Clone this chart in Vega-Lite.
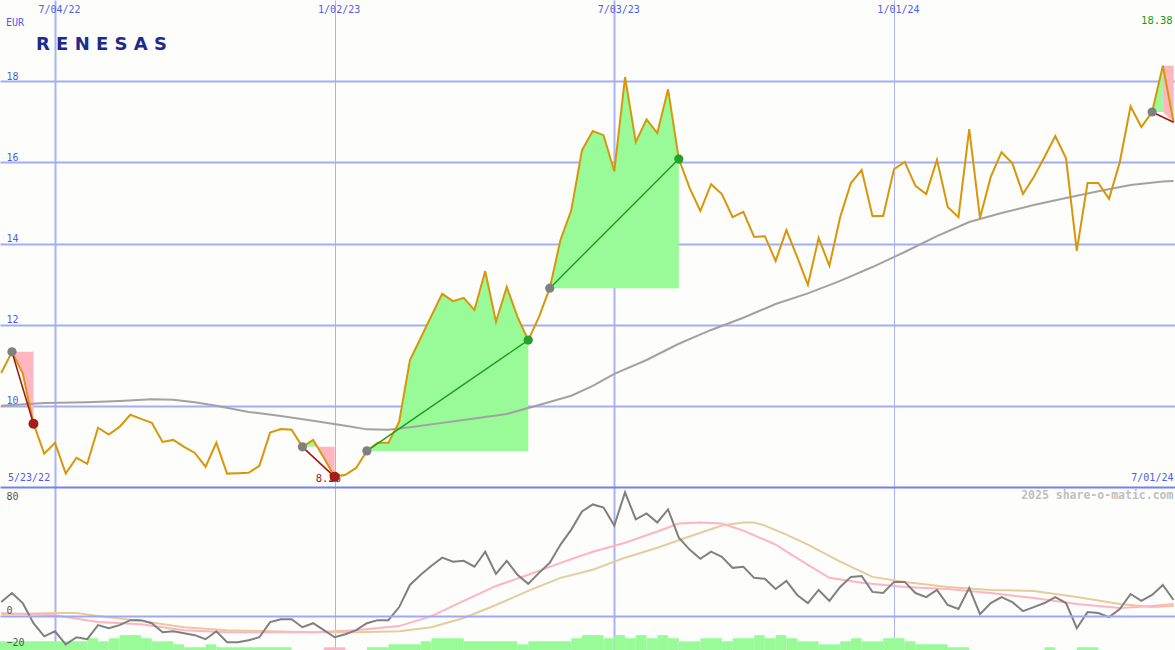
{
  "$schema": "https://vega.github.io/schema/vega-lite/v6.json",
  "padding": 0,
  "spacing": 0,
  "background": "#fdfefb",
  "config": {"view": {"stroke": null}, "concat": {"spacing": 0}},
  "datasets": {
    "px": [
      {"d": "2022-05-30", "p": 10.81}, {"d": "2022-06-06", "p": 11.33}, {"d": "2022-06-13", "p": 10.80}, {"d": "2022-06-20", "p": 9.56},
      {"d": "2022-06-27", "p": 8.82}, {"d": "2022-07-04", "p": 9.09}, {"d": "2022-07-11", "p": 8.33}, {"d": "2022-07-18", "p": 8.72},
      {"d": "2022-07-25", "p": 8.57}, {"d": "2022-08-01", "p": 9.46}, {"d": "2022-08-08", "p": 9.29}, {"d": "2022-08-15", "p": 9.48},
      {"d": "2022-08-22", "p": 9.78}, {"d": "2022-08-29", "p": 9.68}, {"d": "2022-09-05", "p": 9.58}, {"d": "2022-09-12", "p": 9.11},
      {"d": "2022-09-19", "p": 9.16}, {"d": "2022-09-26", "p": 8.99}, {"d": "2022-10-03", "p": 8.84}, {"d": "2022-10-10", "p": 8.50},
      {"d": "2022-10-17", "p": 9.09}, {"d": "2022-10-24", "p": 8.33}, {"d": "2022-10-31", "p": 8.34}, {"d": "2022-11-07", "p": 8.35},
      {"d": "2022-11-14", "p": 8.52}, {"d": "2022-11-21", "p": 9.34}, {"d": "2022-11-28", "p": 9.43}, {"d": "2022-12-05", "p": 9.41},
      {"d": "2022-12-12", "p": 8.99}, {"d": "2022-12-19", "p": 9.16}, {"d": "2022-12-26", "p": 8.72}, {"d": "2023-01-02", "p": 8.25},
      {"d": "2023-01-09", "p": 8.30}, {"d": "2023-01-16", "p": 8.47}, {"d": "2023-01-23", "p": 8.89}, {"d": "2023-01-30", "p": 9.09},
      {"d": "2023-02-06", "p": 9.09}, {"d": "2023-02-13", "p": 9.61}, {"d": "2023-02-20", "p": 11.13}, {"d": "2023-02-27", "p": 11.67},
      {"d": "2023-03-06", "p": 12.22}, {"d": "2023-03-13", "p": 12.76}, {"d": "2023-03-20", "p": 12.58}, {"d": "2023-03-27", "p": 12.66},
      {"d": "2023-04-03", "p": 12.36}, {"d": "2023-04-10", "p": 13.32}, {"d": "2023-04-17", "p": 12.07}, {"d": "2023-04-24", "p": 12.93},
      {"d": "2023-05-01", "p": 12.19}, {"d": "2023-05-08", "p": 11.62}, {"d": "2023-05-15", "p": 12.19}, {"d": "2023-05-22", "p": 12.90},
      {"d": "2023-05-29", "p": 14.09}, {"d": "2023-06-05", "p": 14.82}, {"d": "2023-06-12", "p": 16.30}, {"d": "2023-06-19", "p": 16.77},
      {"d": "2023-06-26", "p": 16.67}, {"d": "2023-07-03", "p": 15.78}, {"d": "2023-07-10", "p": 18.10}, {"d": "2023-07-17", "p": 16.50},
      {"d": "2023-07-24", "p": 17.06}, {"d": "2023-07-31", "p": 16.72}, {"d": "2023-08-07", "p": 17.80}, {"d": "2023-08-14", "p": 16.08},
      {"d": "2023-08-21", "p": 15.37}, {"d": "2023-08-28", "p": 14.80}, {"d": "2023-09-04", "p": 15.46}, {"d": "2023-09-11", "p": 15.22},
      {"d": "2023-09-18", "p": 14.65}, {"d": "2023-09-25", "p": 14.78}, {"d": "2023-10-02", "p": 14.16}, {"d": "2023-10-09", "p": 14.18},
      {"d": "2023-10-16", "p": 13.57}, {"d": "2023-10-23", "p": 14.33}, {"d": "2023-10-30", "p": 13.67}, {"d": "2023-11-06", "p": 12.98},
      {"d": "2023-11-13", "p": 14.14}, {"d": "2023-11-20", "p": 13.45}, {"d": "2023-11-27", "p": 14.65}, {"d": "2023-12-04", "p": 15.49},
      {"d": "2023-12-11", "p": 15.81}, {"d": "2023-12-18", "p": 14.68}, {"d": "2023-12-25", "p": 14.68}, {"d": "2024-01-01", "p": 15.83},
      {"d": "2024-01-08", "p": 16.01}, {"d": "2024-01-15", "p": 15.42}, {"d": "2024-01-22", "p": 15.22}, {"d": "2024-01-29", "p": 16.06},
      {"d": "2024-02-05", "p": 14.90}, {"d": "2024-02-12", "p": 14.65}, {"d": "2024-02-19", "p": 16.82}, {"d": "2024-02-26", "p": 14.63},
      {"d": "2024-03-04", "p": 15.64}, {"d": "2024-03-11", "p": 16.25}, {"d": "2024-03-18", "p": 15.98}, {"d": "2024-03-25", "p": 15.22},
      {"d": "2024-04-01", "p": 15.64}, {"d": "2024-04-08", "p": 16.13}, {"d": "2024-04-15", "p": 16.65}, {"d": "2024-04-22", "p": 16.10},
      {"d": "2024-04-29", "p": 13.82}, {"d": "2024-05-06", "p": 15.49}, {"d": "2024-05-13", "p": 15.49}, {"d": "2024-05-20", "p": 15.10},
      {"d": "2024-05-27", "p": 16.01}, {"d": "2024-06-03", "p": 17.38}, {"d": "2024-06-10", "p": 16.87}, {"d": "2024-06-17", "p": 17.24},
      {"d": "2024-06-24", "p": 18.38}, {"d": "2024-07-01", "p": 16.99}
    ],
    "ma": [
      {"d": "2022-05-30", "m": 10.00}, {"d": "2022-06-27", "m": 10.07}, {"d": "2022-07-25", "m": 10.09}, {"d": "2022-08-15", "m": 10.12},
      {"d": "2022-09-05", "m": 10.16}, {"d": "2022-09-19", "m": 10.15}, {"d": "2022-10-03", "m": 10.09}, {"d": "2022-10-17", "m": 10.00},
      {"d": "2022-11-07", "m": 9.85}, {"d": "2022-11-28", "m": 9.75}, {"d": "2022-12-19", "m": 9.63}, {"d": "2023-01-09", "m": 9.51},
      {"d": "2023-01-23", "m": 9.42}, {"d": "2023-02-06", "m": 9.41}, {"d": "2023-02-20", "m": 9.47}, {"d": "2023-03-13", "m": 9.58},
      {"d": "2023-04-03", "m": 9.69}, {"d": "2023-04-24", "m": 9.80}, {"d": "2023-05-15", "m": 10.02}, {"d": "2023-06-05", "m": 10.25},
      {"d": "2023-06-19", "m": 10.49}, {"d": "2023-07-03", "m": 10.79}, {"d": "2023-07-24", "m": 11.13}, {"d": "2023-08-14", "m": 11.53},
      {"d": "2023-09-04", "m": 11.87}, {"d": "2023-09-25", "m": 12.17}, {"d": "2023-10-16", "m": 12.51}, {"d": "2023-11-06", "m": 12.77},
      {"d": "2023-11-27", "m": 13.08}, {"d": "2023-12-18", "m": 13.42}, {"d": "2024-01-08", "m": 13.79}, {"d": "2024-01-29", "m": 14.18},
      {"d": "2024-02-19", "m": 14.53}, {"d": "2024-03-11", "m": 14.75}, {"d": "2024-04-01", "m": 14.95}, {"d": "2024-04-22", "m": 15.12},
      {"d": "2024-05-13", "m": 15.29}, {"d": "2024-06-03", "m": 15.44}, {"d": "2024-06-24", "m": 15.53}, {"d": "2024-07-01", "m": 15.54}
    ],
    "fills": [
      {"d": "2022-06-06", "p": 11.33, "b": 11.33, "g": 1, "c": "loss"}, {"d": "2022-06-13", "p": 10.80, "b": 11.33, "g": 1, "c": "loss"}, {"d": "2022-06-20", "p": 9.56, "b": 11.33, "g": 1, "c": "loss"},
      {"d": "2022-12-12", "p": 8.99, "b": 8.99, "g": 2, "c": "win"}, {"d": "2022-12-19", "p": 9.16, "b": 8.99, "g": 2, "c": "win"},
      {"d": "2022-12-19", "p": 9.16, "b": 8.99, "g": 3, "c": "loss"}, {"d": "2022-12-26", "p": 8.72, "b": 8.99, "g": 3, "c": "loss"}, {"d": "2023-01-02", "p": 8.25, "b": 8.99, "g": 3, "c": "loss"},
      {"d": "2023-01-23", "p": 8.89, "b": 8.89, "g": 4, "c": "win"}, {"d": "2023-01-30", "p": 9.09, "b": 8.89, "g": 4, "c": "win"}, {"d": "2023-02-06", "p": 9.09, "b": 8.89, "g": 4, "c": "win"},
      {"d": "2023-02-13", "p": 9.61, "b": 8.89, "g": 4, "c": "win"}, {"d": "2023-02-20", "p": 11.13, "b": 8.89, "g": 4, "c": "win"}, {"d": "2023-02-27", "p": 11.67, "b": 8.89, "g": 4, "c": "win"},
      {"d": "2023-03-06", "p": 12.22, "b": 8.89, "g": 4, "c": "win"}, {"d": "2023-03-13", "p": 12.76, "b": 8.89, "g": 4, "c": "win"}, {"d": "2023-03-20", "p": 12.58, "b": 8.89, "g": 4, "c": "win"},
      {"d": "2023-03-27", "p": 12.66, "b": 8.89, "g": 4, "c": "win"}, {"d": "2023-04-03", "p": 12.36, "b": 8.89, "g": 4, "c": "win"}, {"d": "2023-04-10", "p": 13.32, "b": 8.89, "g": 4, "c": "win"},
      {"d": "2023-04-17", "p": 12.07, "b": 8.89, "g": 4, "c": "win"}, {"d": "2023-04-24", "p": 12.93, "b": 8.89, "g": 4, "c": "win"}, {"d": "2023-05-01", "p": 12.19, "b": 8.89, "g": 4, "c": "win"},
      {"d": "2023-05-08", "p": 11.62, "b": 8.89, "g": 4, "c": "win"},
      {"d": "2023-05-22", "p": 12.90, "b": 12.90, "g": 5, "c": "win"}, {"d": "2023-05-29", "p": 14.09, "b": 12.90, "g": 5, "c": "win"}, {"d": "2023-06-05", "p": 14.82, "b": 12.90, "g": 5, "c": "win"},
      {"d": "2023-06-12", "p": 16.30, "b": 12.90, "g": 5, "c": "win"}, {"d": "2023-06-19", "p": 16.77, "b": 12.90, "g": 5, "c": "win"}, {"d": "2023-06-26", "p": 16.67, "b": 12.90, "g": 5, "c": "win"},
      {"d": "2023-07-03", "p": 15.78, "b": 12.90, "g": 5, "c": "win"}, {"d": "2023-07-10", "p": 18.10, "b": 12.90, "g": 5, "c": "win"}, {"d": "2023-07-17", "p": 16.50, "b": 12.90, "g": 5, "c": "win"},
      {"d": "2023-07-24", "p": 17.06, "b": 12.90, "g": 5, "c": "win"}, {"d": "2023-07-31", "p": 16.72, "b": 12.90, "g": 5, "c": "win"}, {"d": "2023-08-07", "p": 17.80, "b": 12.90, "g": 5, "c": "win"},
      {"d": "2023-08-14", "p": 16.08, "b": 12.90, "g": 5, "c": "win"},
      {"d": "2024-06-17", "p": 17.24, "b": 17.24, "g": 6, "c": "win"}, {"d": "2024-06-24", "p": 18.38, "b": 17.24, "g": 6, "c": "win"},
      {"d": "2024-06-24", "p": 18.38, "b": 17.24, "g": 7, "c": "loss"}, {"d": "2024-07-01", "p": 18.38, "b": 16.99, "g": 7, "c": "loss"}
    ],
    "tr": [
      {"d": "2022-06-06", "p": 11.33, "t": 1, "r": "loss"}, {"d": "2022-06-20", "p": 9.56, "t": 1, "r": "loss"},
      {"d": "2022-12-12", "p": 8.99, "t": 2, "r": "loss"}, {"d": "2023-01-02", "p": 8.25, "t": 2, "r": "loss"},
      {"d": "2023-01-23", "p": 8.89, "t": 3, "r": "win"}, {"d": "2023-05-08", "p": 11.62, "t": 3, "r": "win"},
      {"d": "2023-05-22", "p": 12.90, "t": 4, "r": "win"}, {"d": "2023-08-14", "p": 16.08, "t": 4, "r": "win"},
      {"d": "2024-06-17", "p": 17.24, "t": 5, "r": "loss"}, {"d": "2024-07-01", "p": 16.99, "t": 5, "r": "loss"}
    ],
    "dots": [
      {"d": "2022-06-06", "p": 11.33, "k": "entry"}, {"d": "2022-12-12", "p": 8.99, "k": "entry"}, {"d": "2023-01-23", "p": 8.89, "k": "entry"},
      {"d": "2023-05-22", "p": 12.90, "k": "entry"}, {"d": "2024-06-17", "p": 17.24, "k": "entry"},
      {"d": "2022-06-20", "p": 9.56, "k": "loss"}, {"d": "2023-01-02", "p": 8.25, "k": "loss"},
      {"d": "2023-05-08", "p": 11.62, "k": "win"}, {"d": "2023-08-14", "p": 16.08, "k": "win"}
    ],
    "osc": [
      {"d": "2022-05-30", "v": 8.7}, {"d": "2022-06-06", "v": 14.3}, {"d": "2022-06-13", "v": 8.1}, {"d": "2022-06-20", "v": -4.4},
      {"d": "2022-06-27", "v": -12.5}, {"d": "2022-07-04", "v": -9.4}, {"d": "2022-07-11", "v": -17.5}, {"d": "2022-07-18", "v": -13.1},
      {"d": "2022-07-25", "v": -14.3}, {"d": "2022-08-01", "v": -5.6}, {"d": "2022-08-08", "v": -7.5}, {"d": "2022-08-15", "v": -5.6},
      {"d": "2022-08-22", "v": -2.5}, {"d": "2022-08-29", "v": -2.5}, {"d": "2022-09-05", "v": -4.4}, {"d": "2022-09-12", "v": -10.0},
      {"d": "2022-09-19", "v": -9.4}, {"d": "2022-09-26", "v": -10.6}, {"d": "2022-10-03", "v": -11.8}, {"d": "2022-10-10", "v": -14.3},
      {"d": "2022-10-17", "v": -9.4}, {"d": "2022-10-24", "v": -16.2}, {"d": "2022-10-31", "v": -16.2}, {"d": "2022-11-07", "v": -15.0},
      {"d": "2022-11-14", "v": -13.1}, {"d": "2022-11-21", "v": -3.7}, {"d": "2022-11-28", "v": -1.9}, {"d": "2022-12-05", "v": -1.9},
      {"d": "2022-12-12", "v": -6.9}, {"d": "2022-12-19", "v": -4.4}, {"d": "2022-12-26", "v": -8.7}, {"d": "2023-01-02", "v": -13.1},
      {"d": "2023-01-09", "v": -11.2}, {"d": "2023-01-16", "v": -8.7}, {"d": "2023-01-23", "v": -4.4}, {"d": "2023-01-30", "v": -2.5},
      {"d": "2023-02-06", "v": -2.5}, {"d": "2023-02-13", "v": 5.6}, {"d": "2023-02-20", "v": 19.3}, {"d": "2023-02-27", "v": 25.6},
      {"d": "2023-03-06", "v": 31.2}, {"d": "2023-03-13", "v": 36.2}, {"d": "2023-03-20", "v": 33.7}, {"d": "2023-03-27", "v": 34.3},
      {"d": "2023-04-03", "v": 30.6}, {"d": "2023-04-10", "v": 39.9}, {"d": "2023-04-17", "v": 26.2}, {"d": "2023-04-24", "v": 34.3},
      {"d": "2023-05-01", "v": 25.6}, {"d": "2023-05-08", "v": 20.0}, {"d": "2023-05-15", "v": 26.8}, {"d": "2023-05-22", "v": 33.0},
      {"d": "2023-05-29", "v": 44.3}, {"d": "2023-06-05", "v": 53.6}, {"d": "2023-06-12", "v": 64.8}, {"d": "2023-06-19", "v": 69.2},
      {"d": "2023-06-26", "v": 67.3}, {"d": "2023-07-03", "v": 56.1}, {"d": "2023-07-10", "v": 76.7}, {"d": "2023-07-17", "v": 59.9},
      {"d": "2023-07-24", "v": 63.6}, {"d": "2023-07-31", "v": 58.0}, {"d": "2023-08-07", "v": 66.1}, {"d": "2023-08-14", "v": 48.6},
      {"d": "2023-08-21", "v": 41.2}, {"d": "2023-08-28", "v": 35.5}, {"d": "2023-09-04", "v": 39.9}, {"d": "2023-09-11", "v": 36.8},
      {"d": "2023-09-18", "v": 29.9}, {"d": "2023-09-25", "v": 30.6}, {"d": "2023-10-02", "v": 23.7}, {"d": "2023-10-09", "v": 23.1},
      {"d": "2023-10-16", "v": 16.8}, {"d": "2023-10-23", "v": 21.8}, {"d": "2023-10-30", "v": 13.1}, {"d": "2023-11-06", "v": 8.1},
      {"d": "2023-11-13", "v": 16.2}, {"d": "2023-11-20", "v": 9.4}, {"d": "2023-11-27", "v": 18.1}, {"d": "2023-12-04", "v": 24.3},
      {"d": "2023-12-11", "v": 24.9}, {"d": "2023-12-18", "v": 15.0}, {"d": "2023-12-25", "v": 14.3}, {"d": "2024-01-01", "v": 21.2},
      {"d": "2024-01-08", "v": 21.2}, {"d": "2024-01-15", "v": 14.3}, {"d": "2024-01-22", "v": 11.8}, {"d": "2024-01-29", "v": 16.2},
      {"d": "2024-02-05", "v": 6.9}, {"d": "2024-02-12", "v": 4.4}, {"d": "2024-02-19", "v": 17.5}, {"d": "2024-02-26", "v": 1.2},
      {"d": "2024-03-04", "v": 8.1}, {"d": "2024-03-11", "v": 11.8}, {"d": "2024-03-18", "v": 8.7}, {"d": "2024-03-25", "v": 3.1},
      {"d": "2024-04-01", "v": 5.6}, {"d": "2024-04-08", "v": 8.1}, {"d": "2024-04-15", "v": 11.8}, {"d": "2024-04-22", "v": 8.1},
      {"d": "2024-04-29", "v": -7.5}, {"d": "2024-05-06", "v": 2.5}, {"d": "2024-05-13", "v": 1.9}, {"d": "2024-05-20", "v": -0.6},
      {"d": "2024-05-27", "v": 4.4}, {"d": "2024-06-03", "v": 13.7}, {"d": "2024-06-10", "v": 9.4}, {"d": "2024-06-17", "v": 13.1},
      {"d": "2024-06-24", "v": 19.3}, {"d": "2024-07-01", "v": 10.0}
    ],
    "pk": [
      {"d": "2022-05-30", "v": 1.9}, {"d": "2022-07-04", "v": 0.6}, {"d": "2022-08-01", "v": -3.7}, {"d": "2022-08-29", "v": -5.0},
      {"d": "2022-09-26", "v": -8.7}, {"d": "2022-10-24", "v": -10.0}, {"d": "2022-11-21", "v": -10.0}, {"d": "2022-12-19", "v": -10.0},
      {"d": "2023-01-16", "v": -8.7}, {"d": "2023-02-13", "v": -6.2}, {"d": "2023-03-06", "v": 0.0}, {"d": "2023-03-27", "v": 9.4},
      {"d": "2023-04-17", "v": 18.7}, {"d": "2023-05-08", "v": 25.6}, {"d": "2023-05-29", "v": 33.0}, {"d": "2023-06-19", "v": 39.9},
      {"d": "2023-07-10", "v": 45.5}, {"d": "2023-07-31", "v": 52.4}, {"d": "2023-08-14", "v": 57.4}, {"d": "2023-08-28", "v": 58.0},
      {"d": "2023-09-11", "v": 57.4}, {"d": "2023-09-25", "v": 53.0}, {"d": "2023-10-16", "v": 44.3}, {"d": "2023-11-06", "v": 31.8},
      {"d": "2023-11-20", "v": 23.7}, {"d": "2023-12-11", "v": 20.6}, {"d": "2024-01-08", "v": 18.1}, {"d": "2024-02-05", "v": 16.8},
      {"d": "2024-03-04", "v": 14.3}, {"d": "2024-04-01", "v": 11.2}, {"d": "2024-04-29", "v": 7.5}, {"d": "2024-05-27", "v": 5.0},
      {"d": "2024-06-17", "v": 6.2}, {"d": "2024-07-01", "v": 7.5}
    ],
    "tan": [
      {"d": "2022-05-30", "v": 1.2}, {"d": "2022-07-04", "v": 1.9}, {"d": "2022-07-18", "v": 1.9}, {"d": "2022-08-01", "v": 0.0},
      {"d": "2022-08-29", "v": -3.1}, {"d": "2022-09-26", "v": -6.9}, {"d": "2022-10-24", "v": -8.7}, {"d": "2022-11-21", "v": -9.4},
      {"d": "2022-12-19", "v": -10.0}, {"d": "2023-01-16", "v": -10.0}, {"d": "2023-02-13", "v": -9.4}, {"d": "2023-03-06", "v": -6.9},
      {"d": "2023-03-27", "v": -1.2}, {"d": "2023-04-17", "v": 6.9}, {"d": "2023-05-08", "v": 15.6}, {"d": "2023-05-29", "v": 23.7},
      {"d": "2023-06-19", "v": 28.7}, {"d": "2023-07-10", "v": 36.2}, {"d": "2023-07-31", "v": 42.4}, {"d": "2023-08-21", "v": 49.3},
      {"d": "2023-09-11", "v": 56.1}, {"d": "2023-09-25", "v": 58.0}, {"d": "2023-10-02", "v": 58.0}, {"d": "2023-10-09", "v": 56.1},
      {"d": "2023-10-23", "v": 50.5}, {"d": "2023-11-06", "v": 44.3}, {"d": "2023-11-27", "v": 33.7}, {"d": "2023-12-18", "v": 24.3},
      {"d": "2024-01-08", "v": 21.2}, {"d": "2024-02-05", "v": 18.1}, {"d": "2024-03-04", "v": 16.2}, {"d": "2024-04-01", "v": 15.6},
      {"d": "2024-04-29", "v": 11.8}, {"d": "2024-05-27", "v": 7.5}, {"d": "2024-06-17", "v": 5.6}, {"d": "2024-07-01", "v": 6.2}
    ],
    "bars": [
      {"d": "2022-05-23", "d2": "2022-07-25", "v": -15.6, "c": "win"}, {"d": "2022-07-25", "d2": "2022-08-01", "v": -13.7, "c": "win"},
      {"d": "2022-08-01", "d2": "2022-08-08", "v": -15.6, "c": "win"}, {"d": "2022-08-08", "d2": "2022-08-15", "v": -13.7, "c": "win"},
      {"d": "2022-08-15", "d2": "2022-08-29", "v": -11.8, "c": "win"}, {"d": "2022-08-29", "d2": "2022-09-05", "v": -13.7, "c": "win"},
      {"d": "2022-09-05", "d2": "2022-09-19", "v": -15.6, "c": "win"}, {"d": "2022-09-19", "d2": "2022-09-26", "v": -17.5, "c": "win"},
      {"d": "2022-09-26", "d2": "2022-10-10", "v": -19.3, "c": "win"}, {"d": "2022-10-10", "d2": "2022-10-17", "v": -17.5, "c": "win"},
      {"d": "2022-10-17", "d2": "2022-12-05", "v": -19.3, "c": "win"}, {"d": "2022-12-26", "d2": "2023-01-09", "v": -19.3, "c": "loss"},
      {"d": "2023-01-23", "d2": "2023-02-06", "v": -19.3, "c": "win"}, {"d": "2023-02-06", "d2": "2023-02-27", "v": -17.5, "c": "win"},
      {"d": "2023-02-27", "d2": "2023-03-06", "v": -15.6, "c": "win"}, {"d": "2023-03-06", "d2": "2023-03-27", "v": -13.7, "c": "win"},
      {"d": "2023-03-27", "d2": "2023-05-01", "v": -15.6, "c": "win"}, {"d": "2023-05-01", "d2": "2023-05-08", "v": -17.5, "c": "win"},
      {"d": "2023-05-08", "d2": "2023-06-05", "v": -15.6, "c": "win"}, {"d": "2023-06-05", "d2": "2023-06-12", "v": -13.7, "c": "win"},
      {"d": "2023-06-12", "d2": "2023-06-26", "v": -11.8, "c": "win"}, {"d": "2023-06-26", "d2": "2023-07-03", "v": -13.7, "c": "win"},
      {"d": "2023-07-03", "d2": "2023-07-10", "v": -11.8, "c": "win"}, {"d": "2023-07-10", "d2": "2023-07-17", "v": -13.7, "c": "win"},
      {"d": "2023-07-17", "d2": "2023-07-24", "v": -11.8, "c": "win"}, {"d": "2023-07-24", "d2": "2023-07-31", "v": -13.7, "c": "win"},
      {"d": "2023-07-31", "d2": "2023-08-07", "v": -11.8, "c": "win"}, {"d": "2023-08-07", "d2": "2023-08-14", "v": -13.7, "c": "win"},
      {"d": "2023-08-14", "d2": "2023-08-28", "v": -15.6, "c": "win"}, {"d": "2023-08-28", "d2": "2023-09-11", "v": -13.7, "c": "win"},
      {"d": "2023-09-11", "d2": "2023-09-18", "v": -15.6, "c": "win"}, {"d": "2023-09-18", "d2": "2023-10-02", "v": -13.7, "c": "win"},
      {"d": "2023-10-02", "d2": "2023-10-09", "v": -11.8, "c": "win"}, {"d": "2023-10-09", "d2": "2023-10-16", "v": -13.7, "c": "win"},
      {"d": "2023-10-16", "d2": "2023-10-23", "v": -11.8, "c": "win"}, {"d": "2023-10-23", "d2": "2023-10-30", "v": -13.7, "c": "win"},
      {"d": "2023-10-30", "d2": "2023-11-13", "v": -15.6, "c": "win"}, {"d": "2023-11-13", "d2": "2023-11-27", "v": -17.5, "c": "win"},
      {"d": "2023-11-27", "d2": "2023-12-04", "v": -15.6, "c": "win"}, {"d": "2023-12-04", "d2": "2023-12-11", "v": -13.7, "c": "win"},
      {"d": "2023-12-11", "d2": "2023-12-25", "v": -15.6, "c": "win"}, {"d": "2023-12-25", "d2": "2024-01-08", "v": -13.7, "c": "win"},
      {"d": "2024-01-08", "d2": "2024-01-15", "v": -15.6, "c": "win"}, {"d": "2024-01-15", "d2": "2024-02-05", "v": -17.5, "c": "win"},
      {"d": "2024-02-05", "d2": "2024-02-19", "v": -19.3, "c": "win"}, {"d": "2024-04-08", "d2": "2024-04-15", "v": -19.3, "c": "win"},
      {"d": "2024-04-29", "d2": "2024-05-13", "v": -19.3, "c": "win"}
    ]
  },
  "vconcat": [
    {
      "width": 1175,
      "height": 487,
      "layer": [
        {
          "data": {"name": "fills"},
          "transform": [{"filter": "datum.c == 'win'"}],
          "mark": {"type": "area", "clip": true, "color": "#98fb98", "opacity": 1},
          "encoding": {
            "x": {"field": "d", "type": "temporal",
              "scale": {"type": "utc", "domain": [{"year": 2022, "month": 5, "date": 29, "hours": 5, "utc": true}, {"year": 2024, "month": 7, "date": 1, "hours": 22, "utc": true}]},
              "axis": {"orient": "top", "title": null,
                "values": [{"year": 2022, "month": 7, "date": 4, "utc": true}, {"year": 2023, "month": 1, "date": 2, "utc": true}, {"year": 2023, "month": 7, "date": 3, "utc": true}, {"year": 2024, "month": 1, "date": 1, "utc": true}],
                "labelExpr": "utcFormat(datum.value, '%-m/%d/%y')",
                "grid": true, "gridColor": "#a9b3f6",
                "gridWidth": {"condition": {"test": "utcmonth(datum.value) == 6", "value": 2}, "value": 1},
                "domain": false, "ticks": false, "tickSize": 0,
                "labelPadding": -9, "labelBaseline": "middle", "labelOffset": 4, "labelFlush": false, "labelOverlap": false,
                "labelFont": "DejaVu Sans Mono", "labelFontSize": 10, "labelColor": "#4d5de8"}},
            "y": {"field": "p", "type": "quantitative", "stack": null,
              "scale": {"domain": [8, 20], "nice": false, "zero": false},
              "axis": {"orient": "left", "title": null, "values": [10, 12, 14, 16, 18],
                "grid": true, "gridColor": "#a3adf4", "gridWidth": 2,
                "domain": false, "ticks": false, "tickSize": 0,
                "labelAlign": "left", "labelPadding": -6, "labelBaseline": "middle", "labelOffset": -5,
                "labelFont": "DejaVu Sans Mono", "labelFontSize": 10, "labelColor": "#4d5de8"}},
            "y2": {"field": "b"},
            "detail": {"field": "g", "type": "nominal"}
          }
        },
        {
          "data": {"name": "fills"},
          "transform": [{"filter": "datum.c == 'loss'"}],
          "mark": {"type": "area", "clip": true, "color": "#ffb6c1", "opacity": 1},
          "encoding": {
            "x": {"field": "d", "type": "temporal"},
            "y": {"field": "p", "type": "quantitative", "stack": null},
            "y2": {"field": "b"},
            "detail": {"field": "g", "type": "nominal"}
          }
        },
        {
          "data": {"name": "ma"},
          "mark": {"type": "line", "clip": true, "color": "#a2a2a2", "strokeWidth": 2},
          "encoding": {"x": {"field": "d", "type": "temporal"}, "y": {"field": "m", "type": "quantitative"}}
        },
        {
          "data": {"name": "px"},
          "mark": {"type": "line", "clip": true, "color": "#d8960a", "strokeWidth": 2},
          "encoding": {"x": {"field": "d", "type": "temporal"}, "y": {"field": "p", "type": "quantitative"}}
        },
        {
          "data": {"name": "tr"},
          "transform": [{"filter": "datum.r == 'loss'"}],
          "mark": {"type": "line", "clip": true, "color": "#a01818", "strokeWidth": 1.6},
          "encoding": {"x": {"field": "d", "type": "temporal"}, "y": {"field": "p", "type": "quantitative"}, "detail": {"field": "t", "type": "nominal"}}
        },
        {
          "data": {"name": "tr"},
          "transform": [{"filter": "datum.r == 'win'"}],
          "mark": {"type": "line", "clip": true, "color": "#1e9a1e", "strokeWidth": 1.4},
          "encoding": {"x": {"field": "d", "type": "temporal"}, "y": {"field": "p", "type": "quantitative"}, "detail": {"field": "t", "type": "nominal"}}
        },
        {
          "data": {"values": [{}]},
          "mark": {"type": "text", "text": "8.26", "align": "right", "baseline": "middle", "font": "DejaVu Sans Mono", "fontSize": 10.5, "color": "#a01818"},
          "encoding": {"x": {"datum": {"year": 2023, "month": 1, "date": 6, "hours": 3, "utc": true}, "type": "temporal"}, "y": {"datum": 8.2, "type": "quantitative"}}
        },
        {
          "data": {"name": "dots"},
          "transform": [{"filter": "datum.k == 'entry'"}],
          "mark": {"type": "circle", "size": 85, "color": "#808080", "opacity": 1},
          "encoding": {"x": {"field": "d", "type": "temporal"}, "y": {"field": "p", "type": "quantitative"}}
        },
        {
          "data": {"name": "dots"},
          "transform": [{"filter": "datum.k == 'loss'"}],
          "mark": {"type": "circle", "size": 100, "color": "#a51c1c", "opacity": 1},
          "encoding": {"x": {"field": "d", "type": "temporal"}, "y": {"field": "p", "type": "quantitative"}}
        },
        {
          "data": {"name": "dots"},
          "transform": [{"filter": "datum.k == 'win'"}],
          "mark": {"type": "circle", "size": 85, "color": "#2a9d2a", "opacity": 1},
          "encoding": {"x": {"field": "d", "type": "temporal"}, "y": {"field": "p", "type": "quantitative"}}
        },
        {
          "data": {"values": [{}]},
          "mark": {"type": "text", "text": "EUR", "align": "left", "baseline": "middle", "font": "DejaVu Sans Mono", "fontSize": 10, "color": "#4d5de8"},
          "encoding": {"x": {"datum": {"year": 2022, "month": 6, "date": 2, "hours": 3, "utc": true}, "type": "temporal"}, "y": {"datum": 19.44, "type": "quantitative"}}
        },
        {
          "data": {"values": [{}]},
          "mark": {"type": "text", "text": "R E N E S A S", "align": "left", "baseline": "middle", "font": "DejaVu Sans", "fontWeight": "bold", "fontSize": 18, "color": "#1d2b8f"},
          "encoding": {"x": {"datum": {"year": 2022, "month": 6, "date": 21, "hours": 15, "utc": true}, "type": "temporal"}, "y": {"datum": 18.89, "type": "quantitative"}}
        },
        {
          "data": {"values": [{}]},
          "mark": {"type": "text", "text": "18.38", "align": "right", "baseline": "middle", "font": "DejaVu Sans Mono", "fontSize": 10.5, "color": "#229a22"},
          "encoding": {"x": {"datum": {"year": 2024, "month": 6, "date": 30, "hours": 10, "utc": true}, "type": "temporal"}, "y": {"datum": 19.48, "type": "quantitative"}}
        },
        {
          "data": {"values": [{}]},
          "mark": {"type": "text", "text": "5/23/22", "align": "left", "baseline": "middle", "font": "DejaVu Sans Mono", "fontSize": 10, "color": "#4d5de8"},
          "encoding": {"x": {"datum": {"year": 2022, "month": 6, "date": 3, "hours": 10, "utc": true}, "type": "temporal"}, "y": {"datum": 8.215, "type": "quantitative"}}
        },
        {
          "data": {"values": [{}]},
          "mark": {"type": "text", "text": "7/01/24", "align": "right", "baseline": "middle", "font": "DejaVu Sans Mono", "fontSize": 10, "color": "#4d5de8"},
          "encoding": {"x": {"datum": {"year": 2024, "month": 6, "date": 30, "hours": 22, "utc": true}, "type": "temporal"}, "y": {"datum": 8.215, "type": "quantitative"}}
        }
      ]
    },
    {
      "width": 1175,
      "height": 163,
      "layer": [
        {
          "data": {"name": "bars"},
          "transform": [{"filter": "datum.c == 'win'"}],
          "mark": {"type": "rect", "clip": true, "color": "#98fb98"},
          "encoding": {
            "x": {"field": "d", "type": "temporal",
              "scale": {"type": "utc", "domain": [{"year": 2022, "month": 5, "date": 29, "hours": 5, "utc": true}, {"year": 2024, "month": 7, "date": 1, "hours": 22, "utc": true}]},
              "axis": {"orient": "top", "title": null,
                "values": [{"year": 2022, "month": 7, "date": 4, "utc": true}, {"year": 2023, "month": 1, "date": 2, "utc": true}, {"year": 2023, "month": 7, "date": 3, "utc": true}, {"year": 2024, "month": 1, "date": 1, "utc": true}],
                "labels": false, "ticks": false, "tickSize": 0,
                "grid": true, "gridColor": "#a9b3f6",
                "gridWidth": {"condition": {"test": "utcmonth(datum.value) == 6", "value": 2}, "value": 1},
                "domain": true, "domainColor": "#7482ec", "domainWidth": 2}},
            "x2": {"field": "d2"},
            "y": {"field": "v", "type": "quantitative",
              "scale": {"domain": [-21, 80], "nice": false, "zero": false},
              "axis": {"orient": "left", "title": null, "values": [-20, 0, 80], "zindex": 1,
                "grid": true, "gridColor": {"condition": {"test": "datum.value == 0", "value": "#9fa9f3"}, "value": "rgba(0,0,0,0)"}, "gridWidth": 2,
                "domain": false, "ticks": false, "tickSize": 0,
                "labelAlign": "left", "labelPadding": -6, "labelBaseline": "middle",
                "labelOffset": {"condition": {"test": "datum.value == 80", "value": 9}, "value": -6},
                "labelFont": "DejaVu Sans Mono", "labelFontSize": 10, "labelColor": "#555555"}},
            "y2": {"datum": -21}
          }
        },
        {
          "data": {"name": "bars"},
          "transform": [{"filter": "datum.c == 'loss'"}],
          "mark": {"type": "rect", "clip": true, "color": "#ffb6c1"},
          "encoding": {"x": {"field": "d", "type": "temporal"}, "x2": {"field": "d2"}, "y": {"field": "v", "type": "quantitative"}, "y2": {"datum": -21}}
        },
        {
          "data": {"name": "tan"},
          "mark": {"type": "line", "clip": true, "color": "#e6cb9c", "strokeWidth": 2},
          "encoding": {"x": {"field": "d", "type": "temporal"}, "y": {"field": "v", "type": "quantitative"}}
        },
        {
          "data": {"name": "pk"},
          "mark": {"type": "line", "clip": true, "color": "#ffb3c3", "strokeWidth": 2},
          "encoding": {"x": {"field": "d", "type": "temporal"}, "y": {"field": "v", "type": "quantitative"}}
        },
        {
          "data": {"name": "osc"},
          "mark": {"type": "line", "clip": true, "color": "#808080", "strokeWidth": 2},
          "encoding": {"x": {"field": "d", "type": "temporal"}, "y": {"field": "v", "type": "quantitative"}}
        },
        {
          "data": {"values": [{}]},
          "mark": {"type": "text", "text": "2025 share-o-matic.com", "align": "right", "baseline": "middle", "font": "DejaVu Sans Mono", "fontWeight": "bold", "fontSize": 11.5, "color": "#c0c0c0"},
          "encoding": {"x": {"datum": {"year": 2024, "month": 6, "date": 30, "hours": 22, "utc": true}, "type": "temporal"}, "y": {"datum": 74.4, "type": "quantitative"}}
        }
      ]
    }
  ]
}
